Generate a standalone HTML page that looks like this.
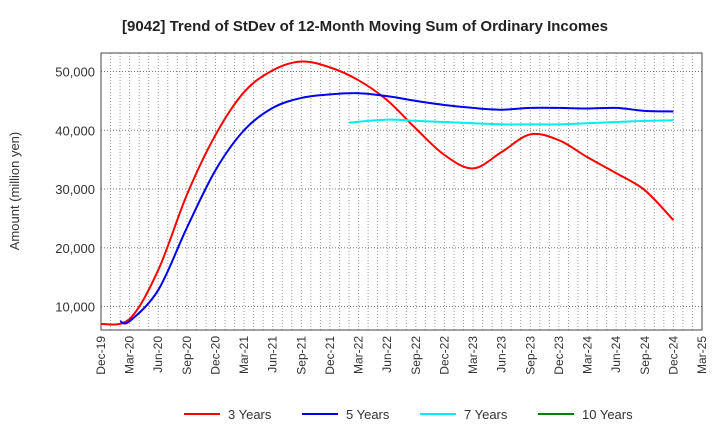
<!DOCTYPE html>
<html><head><meta charset="utf-8"><style>
body{margin:0;background:#fff;font-family:"Liberation Sans",Arial,sans-serif}
svg text{font-family:"Liberation Sans",Arial,sans-serif}
</style></head><body>
<svg id="c" width="720" height="440" xmlns="http://www.w3.org/2000/svg">
<text x="365" y="31" text-anchor="middle" font-size="15" font-weight="bold" fill="#222">[9042]  Trend of StDev of 12-Month Moving Sum of Ordinary Incomes</text>
<text transform="translate(19,191) rotate(-90)" text-anchor="middle" font-size="13" fill="#333">Amount (million yen)</text>
<g id="grid"></g><g id="axes"></g><g id="series"></g><g id="legend"></g>
</svg>
<script>
const xLabels=["Dec-19","Mar-20","Jun-20","Sep-20","Dec-20","Mar-21","Jun-21","Sep-21","Dec-21","Mar-22","Jun-22","Sep-22","Dec-22","Mar-23","Jun-23","Sep-23","Dec-23","Mar-24","Jun-24","Sep-24","Dec-24","Mar-25"];
const yTicks=[10000,20000,30000,40000,50000];
const m3=[0,3,6,9,12,15,18,21,24,27,30,33,36,39,42,45,48,51,54,57,60];
const v3=[7000,7900,16200,29000,39200,46500,50200,51700,50700,48500,45100,40300,35800,33500,36300,39300,38300,35400,32700,29800,24700];
const m5=[2,3,6,9,12,15,18,21,24,27,30,33,36,39,42,45,48,51,54,57,60];
const v5=[7500,7500,12800,23400,33200,40000,43800,45500,46100,46300,45800,45000,44300,43800,43500,43800,43800,43700,43800,43300,43200];
const m7=[26,30,33,36,39,42,45,48,51,54,57,60];
const v7=[41300,41800,41600,41400,41200,41000,41000,41000,41200,41400,41600,41700];
const m10=[];const v10=[];
const L=101,R=702,T=53,B=330;
const X=m=>L+(R-L)*m/63;
const Y=v=>306.5-(v-10000)*58.75/10000;
const NS="http://www.w3.org/2000/svg";
function mk(t,a,p){const e=document.createElementNS(NS,t);for(const k in a)e.setAttribute(k,a[k]);p.appendChild(e);return e;}
const g=document.getElementById('grid'),ax=document.getElementById('axes'),se=document.getElementById('series'),lg=document.getElementById('legend');
for(let m=1;m<63;m++){const l=mk('line',{x1:X(m),x2:X(m),y1:T,y2:B,stroke:'#999','stroke-dasharray':'1,2','stroke-width':1},g);

}
yTicks.forEach(v=>{const l=mk('line',{x1:L,x2:R,y1:Y(v),y2:Y(v),stroke:'#777','stroke-dasharray':'1,2'},g);


const t=mk('text',{x:L-6,y:Y(v)+5,'text-anchor':'end','font-size':13,fill:'#333'},ax);t.textContent=v.toLocaleString('en-US');

});
const fr=mk('rect',{x:L,y:T,width:R-L,height:B-T,fill:'none',stroke:'#444'},ax);


xLabels.forEach((s,i)=>{const x=X(i*3);const t=mk('text',{transform:`translate(${x+4},${B+6}) rotate(-90)`,'text-anchor':'end','font-size':12,fill:'#333'},ax);t.textContent=s;

});
function path(ms,vs){if(!ms.length)return'';const p=ms.map((m,i)=>[X(m),Y(vs[i])]);let d=`M${p[0][0]},${p[0][1]}`;
for(let i=0;i<p.length-1;i++){const p0=p[i-1]||p[i],p1=p[i],p2=p[i+1],p3=p[i+2]||p2;
d+=`C${p1[0]+(p2[0]-p0[0])/6},${p1[1]+(p2[1]-p0[1])/6} ${p2[0]-(p3[0]-p1[0])/6},${p2[1]-(p3[1]-p1[1])/6} ${p2[0]},${p2[1]}`;}return d;}
const series=[["3 Years",m3,v3,"#ff0000"],["5 Years",m5,v5,"#0000ee"],["7 Years",m7,v7,"#00eeee"],["10 Years",m10,v10,"#008000"]];
const lx=[184,302,420,538];
series.forEach((s,i)=>{if(s[1].length){const p=mk('path',{d:path(s[1],s[2]),fill:'none',stroke:s[3],'stroke-width':2},se);

}
const l=mk('line',{x1:lx[i],x2:lx[i]+36,y1:414,y2:414,stroke:s[3],'stroke-width':2},lg);


const t=mk('text',{x:lx[i]+44,y:419,'font-size':13,fill:'#333'},lg);t.textContent=s[0];

});
</script>
</body></html>
